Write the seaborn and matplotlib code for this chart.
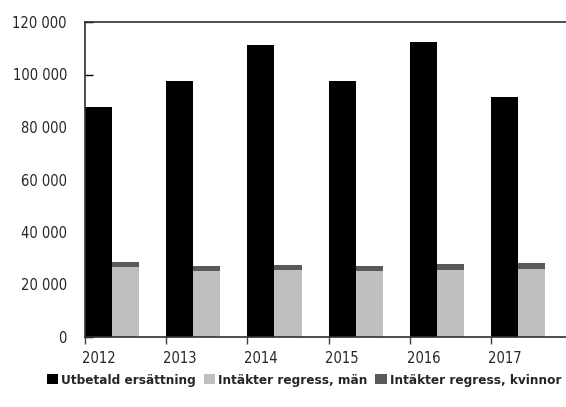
import numpy as np
import pandas as pd
import matplotlib
matplotlib.use("Agg")
import matplotlib.pyplot as plt
from matplotlib import font_manager as fm
from matplotlib.patches import Patch
import seaborn as sns

# data
years = ["2012", "2013", "2014", "2015", "2016", "2017"]
utbetald = [87500, 97500, 111100, 97400, 112500, 91300]
regress_man = [26800, 25000, 25400, 25300, 25600, 25900]
regress_kvinnor = [1700, 1900, 2000, 1900, 2200, 2200]

series_names = ["Utbetald ersättning", "Intäkter regress, män", "Intäkter regress, kvinnor"]
colors = ["#000000", "#bfbfbf", "#595959"]

sns.set_style("white")

# look for a narrow / condensed face, the reference uses a condensed grotesk
narrow = None
for f in fm.fontManager.ttflist:
    fn = f.fname.lower()
    if ("narrow" in fn or "condensed" in fn) and f.style == "normal":
        if narrow is None or "liberation" in fn:
            narrow = f
if narrow is not None:
    plt.rcParams['font.family'] = [narrow.name, 'DejaVu Sans']
    plt.rcParams['font.stretch'] = narrow.stretch
    tick_size, leg_size = 10.5, 9.7
else:
    plt.rcParams['font.family'] = ['DejaVu Sans']
    tick_size, leg_size = 9.5, 8
plt.rcParams['font.size'] = tick_size

df = pd.DataFrame({
    "year": years * 2,
    "value": utbetald + regress_man,
    "serie": [series_names[0]] * len(years) + [series_names[1]] * len(years),
})

fig = plt.figure(figsize=(5.66, 4.07), dpi=100)
ax = fig.add_axes([85 / 566, 70 / 407, 481 / 566, 315 / 407])

sns.barplot(data=df, x="year", y="value", hue="serie", order=years,
            hue_order=series_names[:2], palette=colors[:2], width=2 / 3,
            dodge=True, errorbar=None, linewidth=0, legend=False, ax=ax)

# women stacked on top of the men bars
x = np.arange(len(years))
ax.bar(x + 1 / 6, regress_kvinnor, width=1 / 3, bottom=regress_man,
       color=colors[2], linewidth=0)

ax.set_ylim(0, 120000)
ax.set_xlim(-1 / 3, -1 / 3 + 481 / 81.2)
ax.set_xlabel("")
ax.set_ylabel("")

# y axis
yt = np.arange(0, 120001, 20000)
ax.set_yticks(yt)
ax.set_yticklabels([f"{v:,.0f}".replace(",", " ") for v in yt])
ax.tick_params(axis="y", direction="in", length=6, width=1, color="#000000",
               pad=13, labelsize=tick_size, left=True)

# x axis: ticks at category edges, labels under the black bars
ax.set_xticks(x - 1 / 3)
ax.set_xticklabels([])
ax.set_xticks(x - 1 / 6, minor=True)
ax.set_xticklabels(years, minor=True)
ax.tick_params(axis="x", which="major", direction="out", length=5, width=1,
               color="#404040", bottom=True)
ax.tick_params(axis="x", which="minor", length=0, pad=10, labelsize=tick_size)

for side in ["left", "bottom", "top"]:
    ax.spines[side].set_visible(True)
    ax.spines[side].set_color("#303030")
    ax.spines[side].set_linewidth(1.2)
ax.spines["right"].set_visible(False)

handles = [Patch(facecolor=c, edgecolor="none") for c in colors]
fig.legend(handles, series_names, loc="center", bbox_to_anchor=(0.537, 0.066),
           ncol=3, frameon=False, handlelength=0.85, handleheight=0.85,
           handletextpad=0.2, columnspacing=0.6,
           prop={"weight": "bold", "size": leg_size})

fig.savefig("out.png", dpi=100)
